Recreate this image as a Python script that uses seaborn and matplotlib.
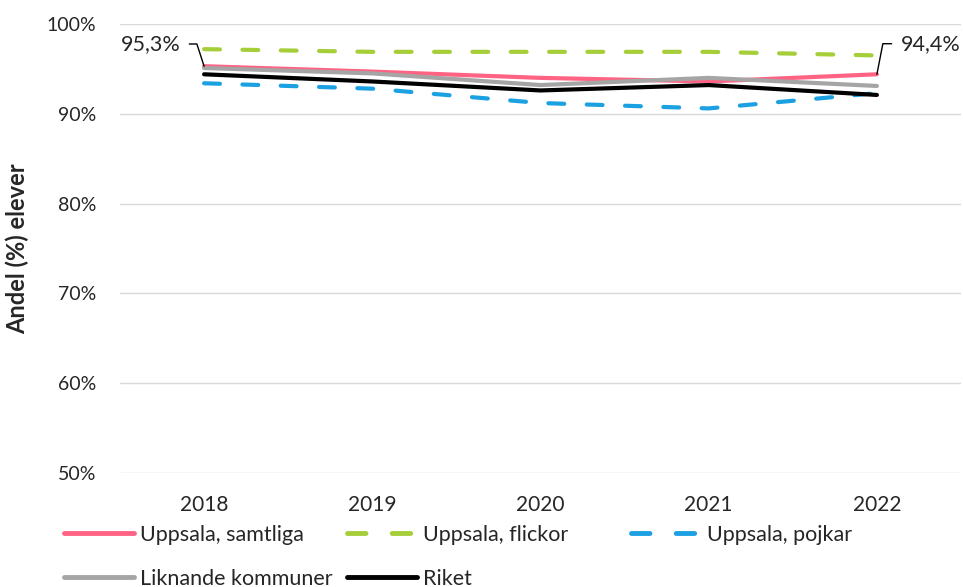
import matplotlib
matplotlib.use("Agg")
import matplotlib.pyplot as plt
import seaborn as sns
import pandas as pd

# Values (percent)
years = ["2018", "2019", "2020", "2021", "2022"]
samtliga = [95.3, 94.7, 94.0, 93.6, 94.4]
flickor = [97.2, 96.9, 96.9, 96.9, 96.5]
pojkar = [93.4, 92.8, 91.2, 90.6, 92.3]
liknande = [95.1, 94.5, 93.2, 94.0, 93.1]
riket = [94.4, 93.6, 92.6, 93.2, 92.1]

names = ["Uppsala, samtliga", "Uppsala, flickor", "Uppsala, pojkar",
         "Liknande kommuner", "Riket"]
series = [samtliga, flickor, pojkar, liknande, riket]
colors = {"Uppsala, samtliga": "#FF6383", "Uppsala, flickor": "#A6CE39",
          "Uppsala, pojkar": "#1BA1E2", "Liknande kommuner": "#A5A5A5",
          "Riket": "#000000"}
dashes = {"Uppsala, samtliga": "", "Uppsala, flickor": (3.8, 5.4),
          "Uppsala, pojkar": (3.8, 5.4), "Liknande kommuner": "", "Riket": ""}
zorders = {"Liknande kommuner": 2, "Riket": 3, "Uppsala, samtliga": 4,
           "Uppsala, pojkar": 5, "Uppsala, flickor": 6}

rows = []
for name, vals in zip(names, series):
    for yr, v in zip(years, vals):
        rows.append({"År": yr, "Andel": v, "Serie": name})
df = pd.DataFrame(rows)

sns.set_style("white")
plt.rcParams["font.family"] = ["Lato", "DejaVu Sans"]

fig = plt.figure(figsize=(9.63, 5.87), dpi=100)
ax = fig.add_axes([120 / 963, 1 - 473 / 587, 841 / 963, 449 / 587])

sns.lineplot(data=df, x="År", y="Andel", hue="Serie", style="Serie",
             palette=colors, dashes=dashes, linewidth=3, sort=False, ax=ax)

for line in ax.get_lines():
    lab = line.get_label()
    line.set_dash_capstyle("round")
    line.set_solid_capstyle("round")
    if lab in zorders:
        line.set_zorder(zorders[lab])

ax.set_xlim(-0.5, 4.5)
ax.set_ylim(50, 100)
ax.set_yticks([50, 60, 70, 80, 90, 100])
ax.set_yticklabels([f"{t}%" for t in [50, 60, 70, 80, 90, 100]])
ax.grid(axis="y", color="#D9D9D9", linewidth=1)
ax.grid(axis="x", visible=False)
ax.set_axisbelow(True)
for s in ax.spines.values():
    s.set_visible(False)
ax.tick_params(axis="y", length=0, pad=17, labelsize=14)
ax.tick_params(axis="x", length=0, pad=16, labelsize=15)
ax.set_xlabel("")
ax.set_ylabel("Andel (%) elever", fontsize=17, fontweight="bold")
ax.yaxis.set_label_coords(-0.108, 0.5)

# Data labels with leader lines
first = f"{samtliga[0]:.1f}%".replace(".", ",")
last = f"{samtliga[-1]:.1f}%".replace(".", ",")
ax.annotate(first, xy=(0, samtliga[0]), xytext=(-17, 16),
            textcoords="offset points", ha="right", va="center", fontsize=15.5,
            arrowprops=dict(arrowstyle="-", color="black", lw=1,
                            shrinkA=4, shrinkB=0,
                            connectionstyle="angle,angleA=0,angleB=108,rad=0"))
ax.annotate(last, xy=(4, samtliga[-1]), xytext=(17, 22),
            textcoords="offset points", ha="left", va="center", fontsize=15.5,
            arrowprops=dict(arrowstyle="-", color="black", lw=1,
                            shrinkA=4, shrinkB=0,
                            connectionstyle="angle,angleA=0,angleB=79,rad=0"))

# Legend: three equal-width columns, filled row by row
handles, labels = ax.get_legend_handles_labels()
hmap = dict(zip(labels, handles))
ax.get_legend().remove()
columns = [(["Uppsala, samtliga", "Liknande kommuner"], 64),
           (["Uppsala, flickor", "Riket"], 347),
           (["Uppsala, pojkar"], 631)]
for entries, xpix in columns:
    leg = fig.legend([hmap[e] for e in entries], entries, frameon=False,
                     loc="upper left", bbox_to_anchor=(xpix / 963, 1 - 525 / 587),
                     fontsize=15.5, handlelength=3.25, handletextpad=0.28,
                     labelspacing=1.1, borderpad=0, borderaxespad=0)
    for h in leg.get_lines():
        h.set_linewidth(3.5)

fig.savefig("out.png", dpi=100)
